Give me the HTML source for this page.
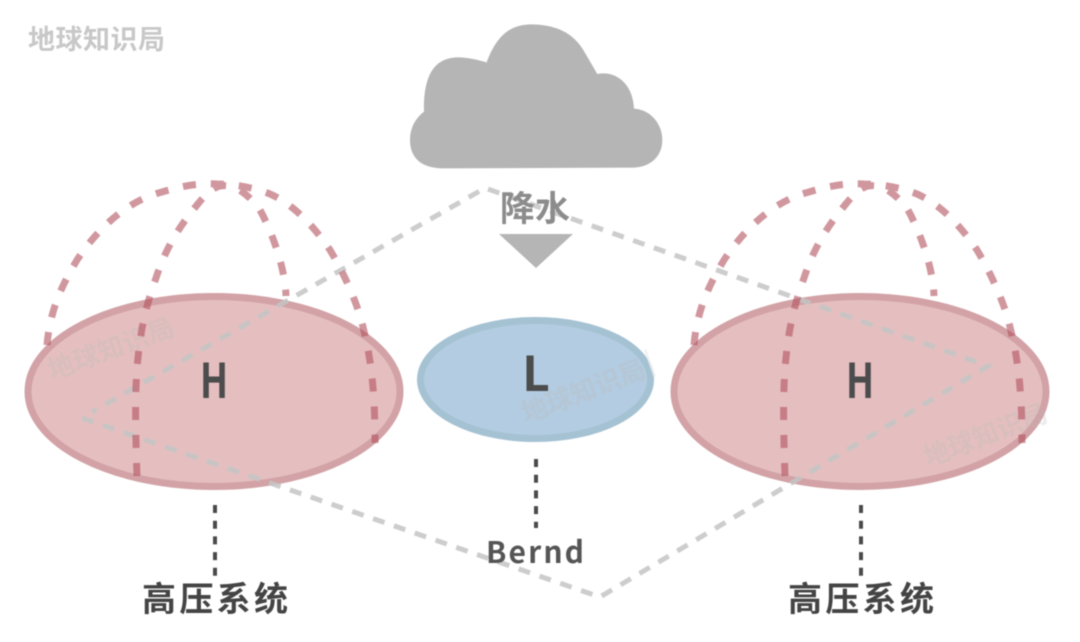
<!DOCTYPE html>
<html><head><meta charset="utf-8"><style>
html,body{margin:0;padding:0;background:#fff;width:1080px;height:642px;overflow:hidden}
svg{display:block;filter:blur(.4px)}
text{font-family:"Liberation Sans","Noto Sans CJK SC",sans-serif}
.c{font-family:"Noto Sans CJK SC","Liberation Sans",sans-serif}
</style></head><body>
<svg width="1080" height="642" viewBox="0 0 1080 642" xmlns="http://www.w3.org/2000/svg">
<rect width="1080" height="642" fill="#fff"/>
<text class="c" x="28" y="49" font-size="27" font-weight="700" fill="#c8c8c8" textLength="137" lengthAdjust="spacing">地球知识局</text>
<path transform="translate(400,10) scale(.3333)" fill="#b5b5b5" d="M130 475C60 475 30 440 30 390C30 350 50 322 72 305C70 200 100 142 175 142C205 142 235 150 260 157C285 90 320 45 390 43C470 43 520 70 550 120L592 192C650 180 700 225 702 296C750 298 787 340 787 390C787 440 750 475 690 473Z"/>
<polygon points="499,234 573,234 536,268" fill="#b5b5b5"/>
<ellipse cx="214" cy="391.500" rx="186" ry="95" fill="#e5bfc0" stroke="#d2a2a6" stroke-width="7"/>
<ellipse cx="860" cy="391.500" rx="186" ry="95" fill="#e5bfc0" stroke="#d2a2a6" stroke-width="7"/>
<ellipse cx="535.500" cy="379.500" rx="115" ry="59" fill="#b3cce1" stroke="#a5c2d3" stroke-width="7"/>
<g class="c" font-size="26" fill="#b9b9b9" opacity=".28" font-weight="700">
<text class="c" transform="translate(52,380) rotate(-20)" textLength="132">地球知识局</text>
<text class="c" transform="translate(526,423) rotate(-21)" textLength="130">地球知识局</text>
<text class="c" transform="translate(928,467) rotate(-21)" textLength="130">地球知识局</text>
</g>
<polygon points="644,350 654,378 656,376 646,349" fill="#eee" opacity=".8"/>
<polyline points="82,418 600,597 988,366 485,188 92,412" fill="none" stroke="#c4c4c4" stroke-width="5" stroke-dasharray="12 10" opacity=".85"/>
<g fill="none" stroke="#b2525e" stroke-width="7" opacity=".6" stroke-dasharray="13 15">
<path id="o" d="M47 345C50 310 62 285 77 260C100 225 130 200 162 192C185 185 200 183 217 184C235 184 255 188 270 194C295 205 315 228 330 250C345 275 358 305 363 327C370 355 375 385 375 443"/>
<path id="i" d="M137 476C135 420 135 385 138 358C141 325 148 300 156 278C165 250 178 228 197 205C205 195 212 188 220 186C232 184 245 190 260 210C270 228 285 265 286 296"/>
<use href="#o" x="647"/>
<use href="#i" x="648"/>
</g>
<g fill="none" stroke="#4a4a4a" stroke-width="4" stroke-dasharray="8 7.700">
<path d="M215 505V576"/><path d="M536 459V528"/><path d="M861 505V576"/>
</g>
<g class="c" font-weight="700" fill="#4c4c4c" font-size="48">
<text class="c" transform="translate(214,398) scale(.78,1)" text-anchor="middle">H</text>
<text class="c" x="536" y="391" text-anchor="middle">L</text>
<text class="c" transform="translate(860,398) scale(.78,1)" text-anchor="middle">H</text>
</g>
<text class="c" x="486" y="563" font-size="30" font-weight="700" fill="#555" textLength="98" lengthAdjust="spacing">Bernd</text>
<text class="c" x="500" y="221" font-size="35" fill="#8c8c8c" font-weight="700" textLength="70" lengthAdjust="spacing">降水</text>
<g font-size="34" font-weight="700" fill="#444">
<text class="c" x="142" y="611" textLength="146" lengthAdjust="spacing">高压系统</text>
<text class="c" x="788" y="611" textLength="146" lengthAdjust="spacing">高压系统</text>
</g>
</svg>
</body></html>
